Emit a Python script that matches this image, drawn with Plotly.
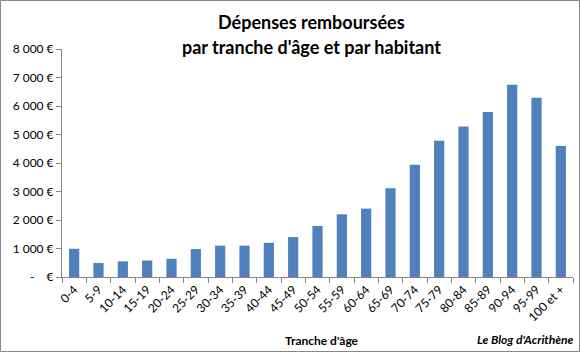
import plotly.graph_objects as go

categories = ["0-4", "5-9", "10-14", "15-19", "20-24", "25-29", "30-34", "35-39",
              "40-44", "45-49", "50-54", "55-59", "60-64", "65-69", "70-74", "75-79",
              "80-84", "85-89", "90-94", "95-99", "100 et +"]
values = [990, 490, 550, 580, 640, 980, 1100, 1100, 1200, 1400, 1790, 2200, 2400,
          3110, 3940, 4780, 5280, 5790, 6750, 6290, 4600]
ytick_vals = [0, 1000, 2000, 3000, 4000, 5000, 6000, 7000, 8000]
ytick_text = ["-\u00a0\u00a0\u00a0\u00a0€", "1 000 €", "2 000 €", "3 000 €", "4 000 €",
              "5 000 €", "6 000 €", "7 000 €", "8 000 €"]
title_lines = ["Dépenses remboursées", "par tranche d'âge et par habitant"]

W, H = 580, 352
ml, mr, mt, mb = 62, 7, 49, 75
pw, ph = W - ml - mr, H - mt - mb

def px(x):
    return (x - ml) / pw

def py(y):
    return (H - mb - y) / ph

font = "Lato"

fig = go.Figure(go.Bar(x=categories, y=values, marker_color="#4F81BD",
                       marker_line_width=0, width=0.42))

annotations = [
    dict(text="<b>%s</b>" % title_lines[0], xref="paper", yref="paper",
         x=px(311), y=py(22), xanchor="center", yanchor="middle",
         showarrow=False, font=dict(family=font, size=18)),
    dict(text="<b>%s</b>" % title_lines[1], xref="paper", yref="paper",
         x=px(311), y=py(47), xanchor="center", yanchor="middle",
         showarrow=False, font=dict(family=font, size=18)),
    dict(text="<b>Tranche d'âge</b>", xref="paper", yref="paper",
         x=px(322), y=py(340), xanchor="center", yanchor="middle",
         showarrow=False, font=dict(family=font, size=12)),
    dict(text="<b><i>Le Blog d'Acrithène</i></b>", xref="paper", yref="paper",
         x=px(576), y=py(339), xanchor="right", yanchor="middle",
         showarrow=False, font=dict(family=font, size=12)),
]

fig.update_layout(
    width=W, height=H,
    margin=dict(l=ml, r=mr, t=mt, b=mb),
    paper_bgcolor="white", plot_bgcolor="white",
    font=dict(family=font, size=12, color="#000000"),
    showlegend=False,
    xaxis=dict(tickangle=-45, showline=True, linecolor="#868686", linewidth=1,
               ticks="outside", ticklen=5, tickcolor="#868686", tickson="boundaries",
               tickfont=dict(family=font, size=12), showgrid=False,
               range=[-0.5, len(categories) - 0.5]),
    yaxis=dict(range=[0, 8000], tickvals=ytick_vals, ticktext=ytick_text,
               showline=True, linecolor="#868686", linewidth=1, ticks="outside",
               ticklen=5, tickcolor="#868686", showgrid=False, zeroline=False,
               tickfont=dict(family=font, size=12)),
    shapes=[dict(type="rect", xref="paper", yref="paper",
                 x0=px(0.5), x1=px(W - 0.5), y0=py(H - 0.5), y1=py(0.5),
                 line=dict(color="#868686", width=1))],
    annotations=annotations,
)

fig.write_html("out.html")
